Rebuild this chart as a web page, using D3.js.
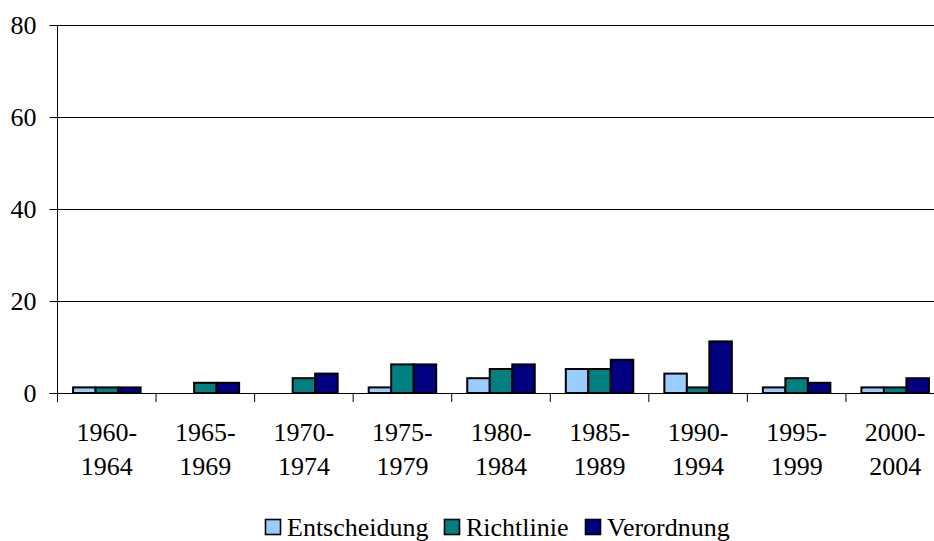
<!DOCTYPE html>
<html><head><meta charset="utf-8">
<script src="https://cdn.jsdelivr.net/npm/d3@7"></script>
<style>body{margin:0;background:#fff}</style>
</head><body>
<script>
const categories = [["1960-","1964"],["1965-","1969"],["1970-","1974"],["1975-","1979"],["1980-","1984"],["1985-","1989"],["1990-","1994"],["1995-","1999"],["2000-","2004"]];
const seriesNames = ["Entscheidung","Richtlinie","Verordnung"];
const entscheidung = [1,0,0,1,3,5,4,1,1];
const richtlinie = [1,2,3,6,5,5,1,3,1];
const verordnung = [1,2,4,6,6,7,11,2,3];
const yTicks = [0,20,40,60,80];
const colors = ["#99CCFF","#008080","#000080"];

const chartW=934, chartH=541;
const svg=d3.select("body").append("svg").attr("width",chartW).attr("height",chartH).style("position","absolute").style("left","0").style("top","0");
const pl=57.5, pr=944.5, pt=25, pb=393;
const xs=d3.scaleBand().domain(d3.range(categories.length)).range([pl,pr]).paddingInner(0.315).paddingOuter(0.158);
const xStep=(pr-pl)/categories.length;
const ys=d3.scaleLinear().domain([0,80]).range([pb,pt]);
const seriesAll=[entscheidung,richtlinie,verordnung];
function styleText(s){ return s.style("font-family",'"Liberation Serif"').style("font-size","26px").style("fill","#000"); }

// gridlines
svg.append("g").selectAll("line").data(yTicks.filter(d=>d>0)).join("line")
 .attr("x1",pl).attr("x2",chartW).attr("y1",d=>Math.round(ys(d))+0.5).attr("y2",d=>Math.round(ys(d))+0.5)
 .attr("stroke","#000").attr("stroke-width",1);

// y axis (lines from d3 axis, labels as direct svg texts)
const gy=svg.append("g").attr("transform",`translate(${pl},0)`).call(d3.axisLeft(ys).tickValues(yTicks).tickSize(8).tickFormat(""));
gy.select(".domain").attr("d",`M0,${pt}V${pb}`).attr("stroke","#000");
gy.selectAll(".tick line").attr("stroke","#000");
yTicks.forEach(v=>{
  styleText(svg.append("text").attr("x",pl-21).attr("y",ys(v)+9).attr("text-anchor","end").text(String(v)));
});

// bars
const sub=d3.scaleBand().domain(d3.range(3)).range([0,xs.bandwidth()]);
const gb=svg.append("g");
seriesAll.forEach((vals,si)=>{
  gb.selectAll(null).data(vals.map((v,i)=>({v,i})).filter(d=>d.v>0)).join("rect")
   .attr("x",d=>xs(d.i)+sub(si))
   .attr("y",d=>ys(d.v)-1)
   .attr("width",sub.bandwidth())
   .attr("height",d=>pb-ys(d.v)+1)
   .attr("fill",colors[si]).attr("stroke","#000").attr("stroke-width",2);
});

// x axis
svg.append("line").attr("x1",pl-8).attr("x2",chartW).attr("y1",pb+0.5).attr("y2",pb+0.5).attr("stroke","#000").attr("stroke-width",1.2);
d3.range(categories.length).forEach(i=>{
  svg.append("line").attr("x1",pl+i*xStep).attr("x2",pl+i*xStep).attr("y1",pb).attr("y2",pb+9).attr("stroke","#000");
});
categories.forEach((c,i)=>{
  const cx=xs(i)+xs.bandwidth()/2;
  styleText(svg.append("text").attr("x",cx).attr("y",pb+48).attr("text-anchor","middle").text(c[0]));
  styleText(svg.append("text").attr("x",cx).attr("y",pb+82).attr("text-anchor","middle").text(c[1]));
});

// legend
const legX=[265,444,585];
seriesNames.forEach((n,i)=>{
  svg.append("rect").attr("x",legX[i]+0.5).attr("y",519.5).attr("width",15).attr("height",15)
   .attr("fill",colors[i]).attr("stroke","#000").attr("stroke-width",1.6);
  styleText(svg.append("text").attr("x",legX[i]+22).attr("y",536).text(n));
});
</script>
</body></html>
